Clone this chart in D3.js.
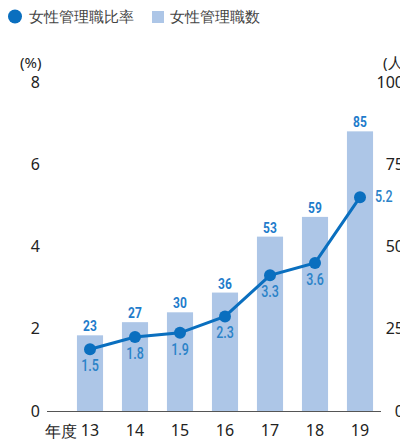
<!DOCTYPE html>
<html><head><meta charset="utf-8">
<script src="https://cdn.jsdelivr.net/npm/d3@7/dist/d3.min.js"></script>
<style>
body{margin:0;background:#fff;}
svg{display:block;}
</style></head>
<body><svg id="c" width="400" height="441"></svg>
<script>
const categories = ["13","14","15","16","17","18","19"];
const managerCounts = [23,27,30,36,53,59,85];
const managerRatios = [1.5,1.8,1.9,2.3,3.3,3.6,5.2];
const leftTicks = [0,2,4,6,8];
const rightTicks = [0,25,50,75,100];
const legendLabels = ["女性管理職比率","女性管理職数"];

const svg = d3.select("#c");
const FONT = "'Noto Sans','Open Sans',sans-serif";
const NARROW = "Roboto,'Noto Sans',sans-serif";
const lineColor = "#0a6fbf";
const barColor = "#adc6e7";
const labelColor = "#1f7ccb";

const x = d3.scaleBand().domain(categories).range([67.5,382.5]).paddingInner(0.42).paddingOuter(0.21);
const yL = d3.scaleLinear().domain([0,8]).range([411,82]);
const yR = d3.scaleLinear().domain([0,100]).range([411,82]);

// legend
svg.append("circle").attr("cx",15).attr("cy",16.5).attr("r",7).attr("fill",lineColor);
svg.append("text").attr("x",29).attr("y",22).attr("font-family",FONT).attr("font-size",15).attr("fill","#444").text(legendLabels[0]);
svg.append("rect").attr("x",152).attr("y",11).attr("width",12).attr("height",12).attr("fill",barColor);
svg.append("text").attr("x",170).attr("y",22).attr("font-family",FONT).attr("font-size",15).attr("fill","#444").text(legendLabels[1]);

// unit labels
svg.append("text").attr("x",20).attr("y",68).attr("font-family",FONT).attr("font-size",15).attr("fill","#222").text("(%)");
svg.append("text").attr("x",383).attr("y",68).attr("font-family",FONT).attr("font-size",15).attr("fill","#222").text("(人)");

// bars
svg.append("g").selectAll("rect").data(categories).join("rect")
  .attr("x",d=>x(d)).attr("width",x.bandwidth())
  .attr("y",(d,i)=>yR(managerCounts[i])).attr("height",(d,i)=>yR(0)-yR(managerCounts[i]))
  .attr("fill",barColor);

// bar labels (condensed look)
svg.append("g").selectAll("text").data(categories).join("text")
  .attr("transform",(d,i)=>`translate(${x(d)+x.bandwidth()/2},${yR(managerCounts[i])-4}) scale(0.8,1)`)
  .attr("text-anchor","middle").attr("font-family",NARROW).attr("font-weight","bold")
  .attr("font-size",15).attr("fill",labelColor).text((d,i)=>managerCounts[i]);

// axis line
svg.append("line").attr("x1",47).attr("x2",381).attr("y1",411.5).attr("y2",411.5).attr("stroke","#555").attr("stroke-width",1);

// line
const line = d3.line().x(d=>x(d[0])+x.bandwidth()/2).y(d=>yL(d[1]));
const pts = categories.map((c,i)=>[c,managerRatios[i]]);
svg.append("path").datum(pts).attr("d",line).attr("fill","none").attr("stroke",lineColor).attr("stroke-width",3);
svg.append("g").selectAll("circle").data(pts).join("circle")
  .attr("cx",d=>x(d[0])+x.bandwidth()/2).attr("cy",d=>yL(d[1])).attr("r",6).attr("fill",lineColor);

// point labels
const last = pts.length-1;
svg.append("g").selectAll("text").data(pts).join("text")
  .attr("transform",(d,i)=>{
    const cx = x(d[0])+x.bandwidth()/2, cy = yL(d[1]);
    return i===last ? `translate(${cx+15},${cy+5}) scale(0.78,1)` : `translate(${cx},${cy+22}) scale(0.78,1)`;
  })
  .attr("text-anchor",(d,i)=> i===last ? "start" : "middle")
  .attr("font-family",NARROW).attr("font-weight",500).attr("font-size",16).attr("fill","#2a82c8")
  .text(d=>d[1].toFixed(1));

// left axis
const gl = svg.append("g").attr("transform","translate(40,0)")
  .call(d3.axisLeft(yL).tickValues(leftTicks).tickSize(0).tickPadding(0).tickFormat(d3.format("d")));
gl.select(".domain").remove();
gl.selectAll("text").attr("font-family",FONT).attr("font-size",16).attr("fill","#222");

// right axis
const gr = svg.append("g").attr("transform","translate(404,0)")
  .call(d3.axisRight(yR).tickValues(rightTicks).tickSize(0).tickPadding(0).tickFormat(d3.format("d")));
gr.select(".domain").remove();
gr.selectAll("text").attr("text-anchor","end").attr("x",0).attr("font-family",FONT).attr("font-size",16).attr("fill","#222");

// x axis
const gx = svg.append("g").attr("transform","translate(0,411)")
  .call(d3.axisBottom(x).tickSize(0).tickPadding(14));
gx.select(".domain").remove();
gx.selectAll("text").attr("font-family",FONT).attr("font-size",16).attr("fill","#222");
svg.append("text").attr("x",77).attr("y",437).attr("text-anchor","end").attr("font-family",FONT).attr("font-size",16).attr("fill","#222").text("年度");
</script></body></html>
